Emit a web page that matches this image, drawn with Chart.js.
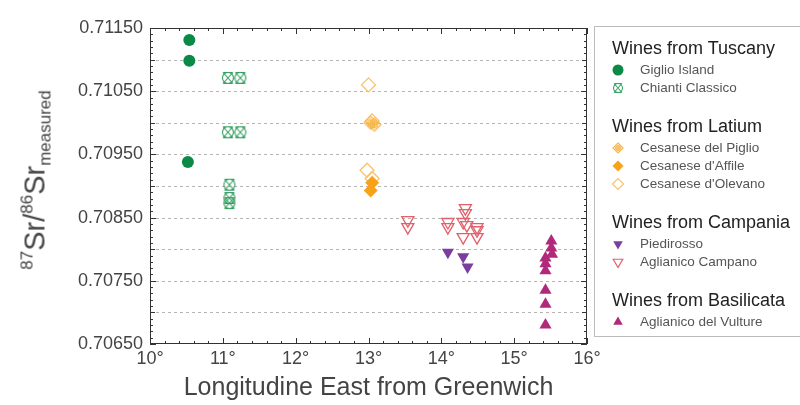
<!DOCTYPE html>
<html>
<head>
<meta charset="utf-8">
<script src="https://cdn.jsdelivr.net/npm/chart.js@4.4.1/dist/chart.umd.min.js"></script>
<style>
  body { margin: 0; background: #fff; font-family: "Liberation Sans", Arial, sans-serif; }
  #wrap { position: relative; width: 800px; height: 405px; overflow: hidden; }
  #ytitle {
    position: absolute; left: 35px; top: 180px;
    transform: translate(-50%, -50%) rotate(-90deg);
    white-space: nowrap; color: #444; font-size: 29px; line-height: 1;
  }
  #ytitle sup { font-size: 17px; vertical-align: 12px; line-height: 0; }
  #ytitle sub { font-size: 17px; vertical-align: -6px; line-height: 0; }
  #legend {
    position: absolute; left: 594px; top: 26px; width: 210px; height: 311px;
    border: 1px solid #bbb; box-sizing: border-box; padding-top: 10px;
  }
  .hdr { height: 22px; line-height: 22px; font-size: 18px; color: #222; padding-left: 17px; margin-bottom: 2px; }
  .itm { height: 18px; line-height: 18px; font-size: 13.5px; color: #555; position: relative; padding-left: 45px; }
  .itm canvas { position: absolute; left: 16px; top: 2px; }
  .gap { height: 18px; }
</style>
</head>
<body>
<div id="wrap">
  <canvas id="chart" width="800" height="405"></canvas>
  <div id="ytitle"><sup>87</sup>Sr/<sup>86</sup>Sr<sub>measured</sub></div>
  <div id="legend"></div>
</div>
<script>
// longitude (°E) and 87Sr/86Sr values
var giglioLon = [10.54, 10.54, 10.52];
var giglioSr  = [0.71131, 0.71098, 0.70938];

var chiantiLon = [11.07, 11.24, 11.07, 11.24, 11.09, 11.09, 11.09];
var chiantiSr  = [0.71071, 0.71071, 0.70985, 0.70985, 0.70902, 0.70881, 0.70873];

var piglioLon = [13.03, 13.08];
var piglioSr  = [0.71000, 0.70997];

var affileLon = [13.05, 13.03];
var affileSr  = [0.70905, 0.70893];

var olevanoLon = [13.00, 13.05, 12.98, 13.05];
var olevanoSr  = [0.71060, 0.71003, 0.70925, 0.70912];

var piedirossoLon = [14.09, 14.30, 14.36];
var piedirossoSr  = [0.70795, 0.70788, 0.70772];

var campanoLon = [13.54, 13.54, 14.09, 14.09, 14.33, 14.33, 14.30, 14.35, 14.30, 14.49, 14.49, 14.49];
var campanoSr  = [0.70846, 0.70835, 0.70843, 0.70835, 0.70865, 0.70857, 0.70843, 0.70838, 0.70819, 0.70835, 0.70830, 0.70819];

var vultureLon = [15.51, 15.51, 15.52, 15.43, 15.43, 15.43, 15.43, 15.43, 15.43];
var vultureSr  = [0.70813, 0.70802, 0.70792, 0.70786, 0.70777, 0.70766, 0.70735, 0.70713, 0.70680];

var xMin = 10, xMax = 16;
var yMin = 0.7065, yMax = 0.7115;

var groups = [
  { title: 'Wines from Tuscany', items: ['Giglio Island', 'Chianti Classico'] },
  { title: 'Wines from Latium', items: ['Cesanese del Piglio', "Cesanese d'Affile", "Cesanese d'Olevano"] },
  { title: 'Wines from Campania', items: ['Piedirosso', 'Aglianico Campano'] },
  { title: 'Wines from Basilicata', items: ['Aglianico del Vulture'] }
];

// custom markers
function chiantiIcon(size, color) {
  var c = document.createElement('canvas');
  c.width = c.height = size;
  var g = c.getContext('2d');
  g.strokeStyle = color; g.lineWidth = 1.1;
  var m = size / 2, r = size / 2 - 1.5;
  g.beginPath(); g.arc(m, m, r, 0, 2 * Math.PI); g.stroke();
  g.beginPath();
  g.moveTo(2, 1.5); g.lineTo(size - 2, size - 1.5);
  g.moveTo(size - 2, 1.5); g.lineTo(2, size - 1.5);
  g.moveTo(2.5, 1.5); g.lineTo(size - 2.5, 1.5);
  g.moveTo(2.5, size - 1.5); g.lineTo(size - 2.5, size - 1.5);
  g.stroke();
  return c;
}
function piglioIcon(size, color) {
  var c = document.createElement('canvas');
  c.width = c.height = size;
  var g = c.getContext('2d');
  g.strokeStyle = color; g.lineWidth = 1.2;
  var m = size / 2, h = size / 2 - 1;
  g.beginPath();
  g.moveTo(m, m - h); g.lineTo(m + h, m); g.lineTo(m, m + h); g.lineTo(m - h, m); g.closePath();
  g.stroke();
  g.beginPath(); g.arc(m, m, h * 0.45, 0, 2 * Math.PI); g.stroke();
  g.beginPath();
  g.moveTo(m - h * 0.6, m); g.lineTo(m + h * 0.6, m);
  g.moveTo(m, m - h * 0.6); g.lineTo(m, m + h * 0.6);
  g.stroke();
  return c;
}

var clear = 'rgba(255,255,255,0)';
var styles = {
  'Giglio Island':        { pointStyle: 'circle', color: '#0a8a45', fill: true, r: 6 },
  'Chianti Classico':     { pointStyle: chiantiIcon(14, '#2f9a5c'), legendStyle: chiantiIcon(12, '#3aa468'), color: '#2f9a5c', r: 7 },
  'Cesanese del Piglio':  { pointStyle: piglioIcon(15, '#f5b649'), legendStyle: piglioIcon(12, '#f4b54c'), color: '#f5b649', r: 7 },
  "Cesanese d'Affile":    { pointStyle: 'rectRot', color: '#f7a21b', fill: true, r: 7 },
  "Cesanese d'Olevano":   { pointStyle: 'rectRot', color: '#f8c36a', r: 7 },
  'Piedirosso':           { pointStyle: 'triangle', rot: 180, color: '#7b3e9e', fill: true, r: 7 },
  'Aglianico Campano':    { pointStyle: 'triangle', rot: 180, color: '#e0606b', r: 7 },
  'Aglianico del Vulture':{ pointStyle: 'triangle', color: '#b1297b', fill: true, r: 7 }
};

var seriesData = {
  'Giglio Island': [giglioLon, giglioSr],
  'Chianti Classico': [chiantiLon, chiantiSr],
  'Cesanese del Piglio': [piglioLon, piglioSr],
  "Cesanese d'Affile": [affileLon, affileSr],
  "Cesanese d'Olevano": [olevanoLon, olevanoSr],
  'Piedirosso': [piedirossoLon, piedirossoSr],
  'Aglianico Campano': [campanoLon, campanoSr],
  'Aglianico del Vulture': [vultureLon, vultureSr]
};

var datasets = Object.keys(seriesData).map(function (name) {
  var s = styles[name], d = seriesData[name];
  return {
    label: name,
    data: d[0].map(function (x, i) { return { x: x, y: d[1][i] }; }),
    pointStyle: s.pointStyle,
    pointRotation: s.rot || 0,
    pointRadius: s.r,
    backgroundColor: s.fill ? s.color : clear,
    borderColor: s.color,
    borderWidth: s.fill ? 0 : 1.3
  };
});

// dashed grid, frame box and minor ticks on all four sides
var frameTicks = {
  id: 'frameTicks',
  beforeDatasetsDraw: function (chart) {
    var ctx = chart.ctx, a = chart.chartArea, y = chart.scales.y;
    ctx.save();
    ctx.strokeStyle = '#b5b5b5';
    ctx.lineWidth = 1;
    ctx.setLineDash([3, 3]);
    ctx.beginPath();
    y.ticks.forEach(function (t) {
      if (t.value <= yMin + 1e-9 || t.value >= yMax - 1e-9) return;
      var py = Math.round(y.getPixelForValue(t.value)) + 0.5;
      ctx.moveTo(a.left, py); ctx.lineTo(a.right, py);
    });
    ctx.stroke();
    ctx.restore();
  },
  afterDraw: function (chart) {
    var ctx = chart.ctx, a = chart.chartArea, x = chart.scales.x, y = chart.scales.y;
    ctx.save();
    ctx.strokeStyle = '#333';
    ctx.lineWidth = 1;
    ctx.strokeRect(a.left + 0.5, a.top + 0.5, a.right - a.left - 1, a.bottom - a.top - 1);
    ctx.beginPath();
    for (var i = 0; i <= 50; i++) {
      var py = Math.round(y.getPixelForValue(yMin + i * 0.0001)) + 0.5;
      var len = i % 10 === 0 ? 6 : (i % 5 === 0 ? 5 : 3);
      ctx.moveTo(a.left, py); ctx.lineTo(a.left + len, py);
      ctx.moveTo(a.right, py); ctx.lineTo(a.right - len, py);
    }
    for (var j = 0; j <= 30; j++) {
      var px = Math.round(x.getPixelForValue(xMin + j * 0.2)) + 0.5;
      var l2 = j % 5 === 0 ? 6 : 3;
      ctx.moveTo(px, a.bottom); ctx.lineTo(px, a.bottom - l2);
      ctx.moveTo(px, a.top); ctx.lineTo(px, a.top + l2);
    }
    ctx.stroke();
    ctx.restore();
  }
};

new Chart(document.getElementById('chart'), {
  type: 'scatter',
  data: { datasets: datasets },
  options: {
    responsive: false,
    animation: false,
    events: [],
    layout: { padding: { left: 0, right: 213, top: 28, bottom: 0 } },
    plugins: { legend: { display: false }, tooltip: { enabled: false } },
    scales: {
      x: {
        type: 'linear', min: xMin, max: xMax,
        afterFit: function (s) { s.height = 61; },
        grid: { display: false, drawTicks: false },
        border: { display: false },
        ticks: {
          stepSize: 1, padding: 4, color: '#444',
          font: { family: '"Liberation Sans", Arial, sans-serif', size: 18 },
          callback: function (v) { return v + '°'; }
        },
        title: {
          display: true, text: 'Longitudine East from Greenwich', color: '#444',
          font: { family: '"Liberation Sans", Arial, sans-serif', size: 25 },
          padding: { top: 0, bottom: 2 }
        }
      },
      y: {
        type: 'linear', min: yMin, max: yMax,
        afterFit: function (s) { s.width = 150; },
        grid: { display: false, drawTicks: false },
        border: { display: false },
        ticks: {
          stepSize: 0.0005, padding: 7, color: '#444',
          font: { family: '"Liberation Sans", Arial, sans-serif', size: 18 },
          callback: function (v) {
            return Math.round(v * 1e4) % 10 === 5 ? Number(v).toFixed(5) : '';
          }
        }
      }
    }
  },
  plugins: [frameTicks]
});

// grouped legend
var legend = document.getElementById('legend');
groups.forEach(function (grp, gi) {
  if (gi > 0) {
    var gap = document.createElement('div'); gap.className = 'gap'; legend.appendChild(gap);
  }
  var h = document.createElement('div'); h.className = 'hdr'; h.textContent = grp.title;
  legend.appendChild(h);
  grp.items.forEach(function (name) {
    var s = styles[name];
    var row = document.createElement('div'); row.className = 'itm';
    var c = document.createElement('canvas'); c.width = 14; c.height = 14;
    var g = c.getContext('2d');
    g.fillStyle = s.fill ? s.color : clear;
    g.strokeStyle = s.color;
    g.lineWidth = s.fill ? 0 : 1.2;
    if (Chart.helpers && Chart.helpers.drawPoint) {
      Chart.helpers.drawPoint(g, {
        pointStyle: s.legendStyle || s.pointStyle,
        rotation: s.rot || 0,
        radius: 5.5,
        borderWidth: s.fill ? 0 : 1.2
      }, 7, 7);
    }
    row.appendChild(c);
    row.appendChild(document.createTextNode(name));
    legend.appendChild(row);
  });
});
</script>
</body>
</html>
